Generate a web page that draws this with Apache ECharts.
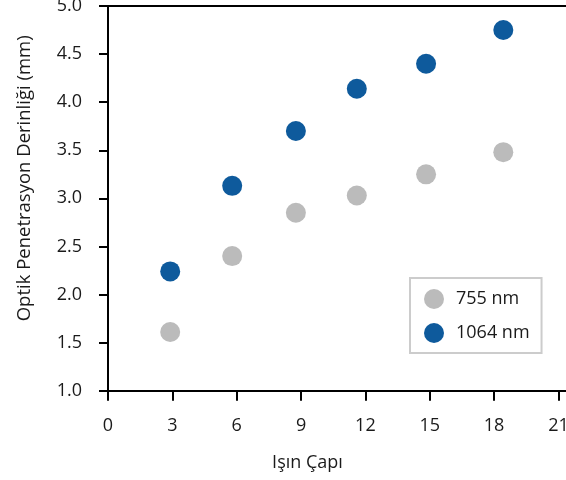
<!DOCTYPE html>
<html>
<head>
<meta charset="utf-8">
<script src="https://cdn.jsdelivr.net/npm/echarts@6/dist/echarts.min.js"></script>
<style>
html,body{margin:0;padding:0;background:#fff;}
#chart{width:566px;height:480px;}
</style>
</head>
<body>
<div id="chart"></div>
<script>
const beamDiameter = [2.90, 5.79, 8.76, 11.60, 14.83, 18.43];
const depth755 = [1.61, 2.40, 2.85, 3.03, 3.25, 3.48];
const depth1064 = [2.24, 3.13, 3.70, 4.14, 4.40, 4.75];
const seriesNames = ['755 nm', '1064 nm'];
const xTicks = [0, 3, 6, 9, 12, 15, 18, 21];
const xTitle = 'Işın Çapı';
const yTitle = 'Optik Penetrasyon Derinliği (mm)';

const FONT = '"Open Sans", "Noto Sans", sans-serif';
const chart = echarts.init(document.getElementById('chart'), null, {renderer: 'canvas'});

const pairs = (xs, ys) => xs.map((x, i) => [x, ys[i]]);
const xLabel = v => (xTicks.some(t => Math.abs(t - v) < 1e-9) ? String(v) : '');

chart.setOption({
  animation: false,
  backgroundColor: '#ffffff',
  textStyle: {fontFamily: FONT},
  grid: {left: 108, top: 6, width: 459, height: 384.7, containLabel: false, outerBoundsMode: 'none'},
  legend: {
    orient: 'vertical',
    left: 410, top: 278,
    padding: [11, 12, 10, 14],
    itemWidth: 20, itemHeight: 20, itemGap: 14,
    borderColor: '#cccccc', borderWidth: 2,
    icon: 'circle',
    textStyle: {fontFamily: FONT, fontSize: 18, color: '#1a1a1a', padding: [0, 0, 0, 7]},
    data: seriesNames
  },
  xAxis: [{
    type: 'value', min: 0, max: 21.4, interval: 3,
    name: xTitle, nameLocation: 'middle', nameGap: 63,
    nameTextStyle: {fontFamily: FONT, fontSize: 18, color: '#1a1a1a', padding: [0, 60, 0, 0]},
    axisLine: {show: true, onZero: false, lineStyle: {color: '#000', width: 2}},
    axisTick: {show: true, inside: false, length: 10, lineStyle: {color: '#000', width: 2}},
    axisLabel: {margin: 26, fontFamily: FONT, fontSize: 18, color: '#1a1a1a', showMaxLabel: false,
      formatter: xLabel},
    splitLine: {show: false}
  }, {
    type: 'value', position: 'top', min: 0, max: 21.4,
    axisLine: {show: true, onZero: false, lineStyle: {color: '#000', width: 2}},
    axisTick: {show: false}, axisLabel: {show: false}, splitLine: {show: false}
  }],
  yAxis: {
    type: 'value', min: 1, max: 5, interval: 0.5,
    name: yTitle, nameLocation: 'middle', nameGap: 74,
    nameTextStyle: {fontFamily: FONT, fontSize: 18.5, color: '#1a1a1a', padding: [0, 0, 0, 40]},
    axisLine: {show: true, onZero: false, lineStyle: {color: '#000', width: 2}},
    axisTick: {show: true, inside: false, length: 9, lineStyle: {color: '#000', width: 2}},
    axisLabel: {margin: 26, fontFamily: FONT, fontSize: 18, color: '#1a1a1a',
      formatter: v => v.toFixed(1)},
    splitLine: {show: false}
  },
  series: [{
    name: seriesNames[0], type: 'scatter', symbol: 'circle', symbolSize: 20,
    itemStyle: {color: '#BBBBBB', opacity: 1},
    data: pairs(beamDiameter, depth755)
  }, {
    name: seriesNames[1], type: 'scatter', symbol: 'circle', symbolSize: 20,
    itemStyle: {color: '#0E5A9C', opacity: 1},
    data: pairs(beamDiameter, depth1064)
  }]
});
</script>
</body>
</html>
